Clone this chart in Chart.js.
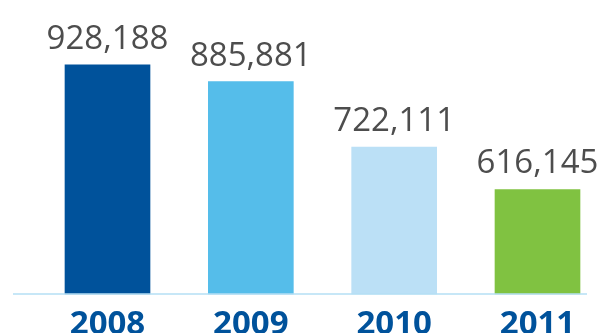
<!DOCTYPE html>
<html>
<head>
<meta charset="utf-8">
<script src="https://cdn.jsdelivr.net/npm/chart.js@4"></script>
<style>
  html, body { margin: 0; padding: 0; background: #fff; overflow: hidden; }
  #wrap { width: 602px; height: 333px; position: relative; }
</style>
</head>
<body>
<div id="wrap"><canvas id="visitorsChart"></canvas></div>
<script>
// Yearly totals
const years = ['2008', '2009', '2010', '2011'];
const totals = [928188, 885881, 722111, 616145];
const barColors = ['#00529b', '#55bdea', '#bbe0f6', '#80c241'];

// Value range of the hidden y axis
const yMin = 355000;
const yMax = 990000;

// Write the total above each bar
const valueLabels = {
    id: 'valueLabels',
    afterDatasetsDraw(chart) {
        const ctx = chart.ctx;
        const meta = chart.getDatasetMeta(0);
        ctx.save();
        ctx.font = '33px "Open Sans"';
        ctx.fillStyle = '#4d4d4d';
        ctx.textAlign = 'center';
        ctx.textBaseline = 'alphabetic';
        meta.data.forEach((bar, i) => {
            ctx.fillText(totals[i].toLocaleString('en-US'), bar.x, bar.y - 16);
        });
        ctx.restore();
    }
};

// Thin baseline running under the bars
const baseLine = {
    id: 'baseLine',
    afterDatasetsDraw(chart) {
        const ctx = chart.ctx;
        const y = chart.scales.y.getPixelForValue(yMin);
        ctx.save();
        ctx.strokeStyle = '#b5dff5';
        ctx.lineWidth = 1.5;
        ctx.beginPath();
        ctx.moveTo(13, y);
        ctx.lineTo(587, y);
        ctx.stroke();
        ctx.restore();
    }
};

new Chart(document.getElementById('visitorsChart'), {
    type: 'bar',
    data: {
        labels: years,
        datasets: [{
            data: totals,
            backgroundColor: barColors,
            borderWidth: 0,
            barThickness: 85,
            base: yMin,
            clip: false
        }]
    },
    options: {
        responsive: true,
        maintainAspectRatio: false,
        animation: false,
        layout: {
            padding: { top: 40, left: 107.5, right: 64.5, bottom: -22 }
        },
        plugins: {
            legend: { display: false },
            tooltip: { enabled: false }
        },
        scales: {
            x: {
                offset: false,
                grid: { display: false, drawTicks: false },
                border: { display: false },
                ticks: {
                    color: '#00529b',
                    padding: 20,
                    maxRotation: 0,
                    font: { family: '"Open Sans"', size: 33, weight: 'bold', lineHeight: 0.64 }
                }
            },
            y: {
                display: false,
                min: yMin,
                max: yMax
            }
        }
    },
    plugins: [valueLabels, baseLine]
});
</script>
</body>
</html>
